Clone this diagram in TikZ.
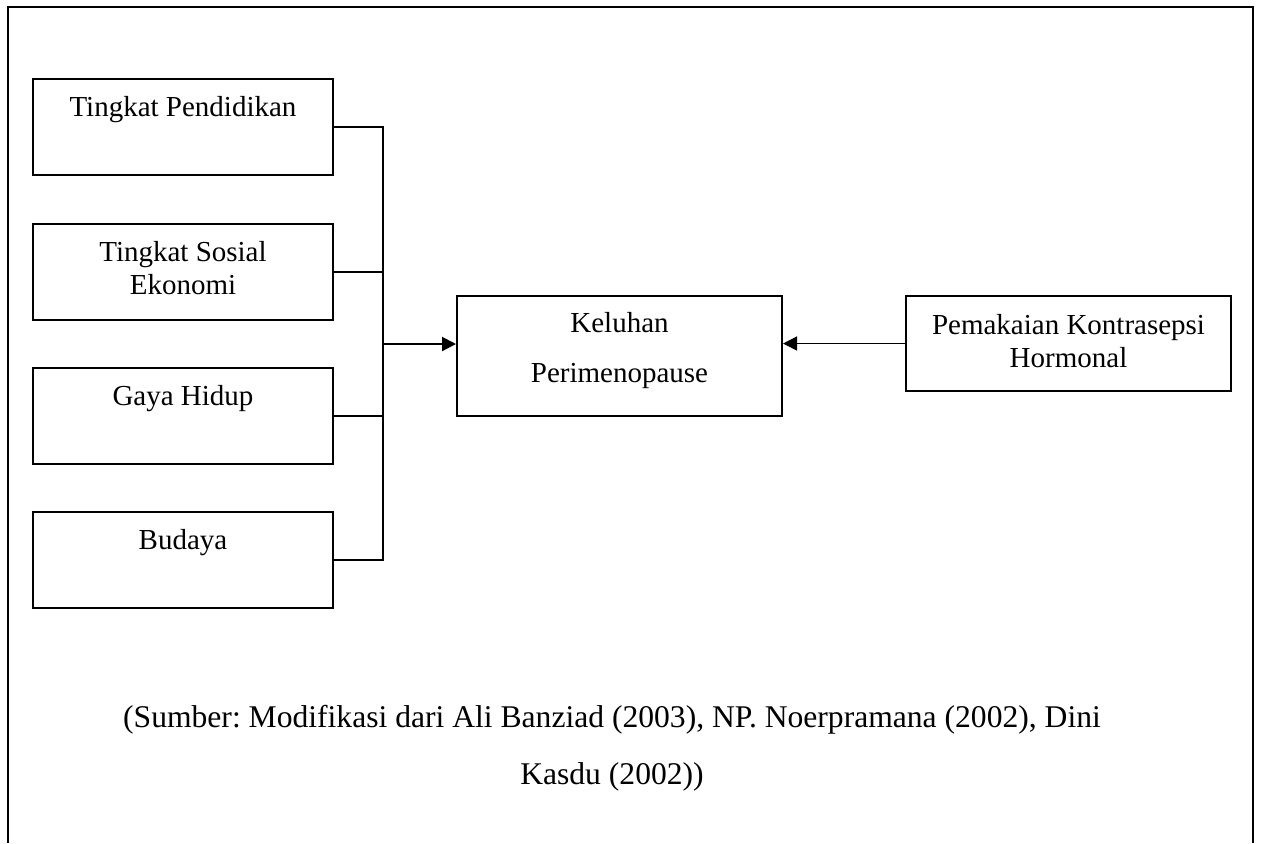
\documentclass[tikz,border=0pt]{standalone}
\usepackage{fontspec}
\setmainfont{Liberation Serif}
\usetikzlibrary{arrows.meta}
\frenchspacing
\tikzset{
  kotak/.style={draw,line width=1pt,inner sep=0pt},
  teks/.style={anchor=base,align=center,font=\fontsize{14.5}{16.5}\selectfont},
  garis/.style={line width=1pt},
  panah/.style={line width=1pt,-{Triangle[length=7pt,width=7pt]}}
}
\begin{document}
\begin{tikzpicture}[x=0.5pt,y=-0.5pt]
\useasboundingbox (0,0) rectangle (1261,843);
\draw[garis] (8,843) -- (8,7) -- (1253,7) -- (1253,843);
% faktor di kiri (base = baris terakhir)
\foreach \n/\y/\s/\t in {1/127/19/{Tingkat Pendidikan},2/272/35.5/{Tingkat Sosial\\Ekonomi},3/416/19/{Gaya Hidup},4/560/19/{Budaya}}{
  \node[kotak,minimum width=150pt,minimum height=48pt] (f\n) at (183,\y) {};
  \node[teks] (tf\n) at ([yshift=-\s pt]f\n.north) {\t};}
\coordinate (bus) at (383,344);
\draw[garis] (f1.east) -- (f1.east -| bus) -- (f4.east -| bus) -- (f4.east);
\draw[garis] (f2.east) -- (f2.east -| bus);
\draw[garis] (f3.east) -- (f3.east -| bus);
% keluhan
\node[kotak,minimum width=162.5pt,minimum height=60pt] (kel) at (619.5,356) {};
\node[teks,font=\fontsize{14.5}{25}\selectfont] (tkel) at ([yshift=-43.5pt]kel.north) {Keluhan\\Perimenopause};
\draw[panah] (bus) -- (bus -| kel.west);
% kontrasepsi
\node[kotak,minimum width=162.5pt,minimum height=47.5pt] (hk) at (1068.5,343.5) {};
\node[teks] (thk) at ([yshift=-36pt]hk.north) {Pemakaian Kontrasepsi\\Hormonal};
\draw[panah,line width=0.7pt] (hk.west) -- (hk.west -| kel.east);
% sumber
\node[teks,font=\fontsize{15.8}{28.5}\selectfont] (sumber) at (612,784) {(Sumber: Modifikasi dari Ali Banziad (2003), NP. Noerpramana (2002), Dini\\Kasdu (2002))};
\end{tikzpicture}
\end{document}
